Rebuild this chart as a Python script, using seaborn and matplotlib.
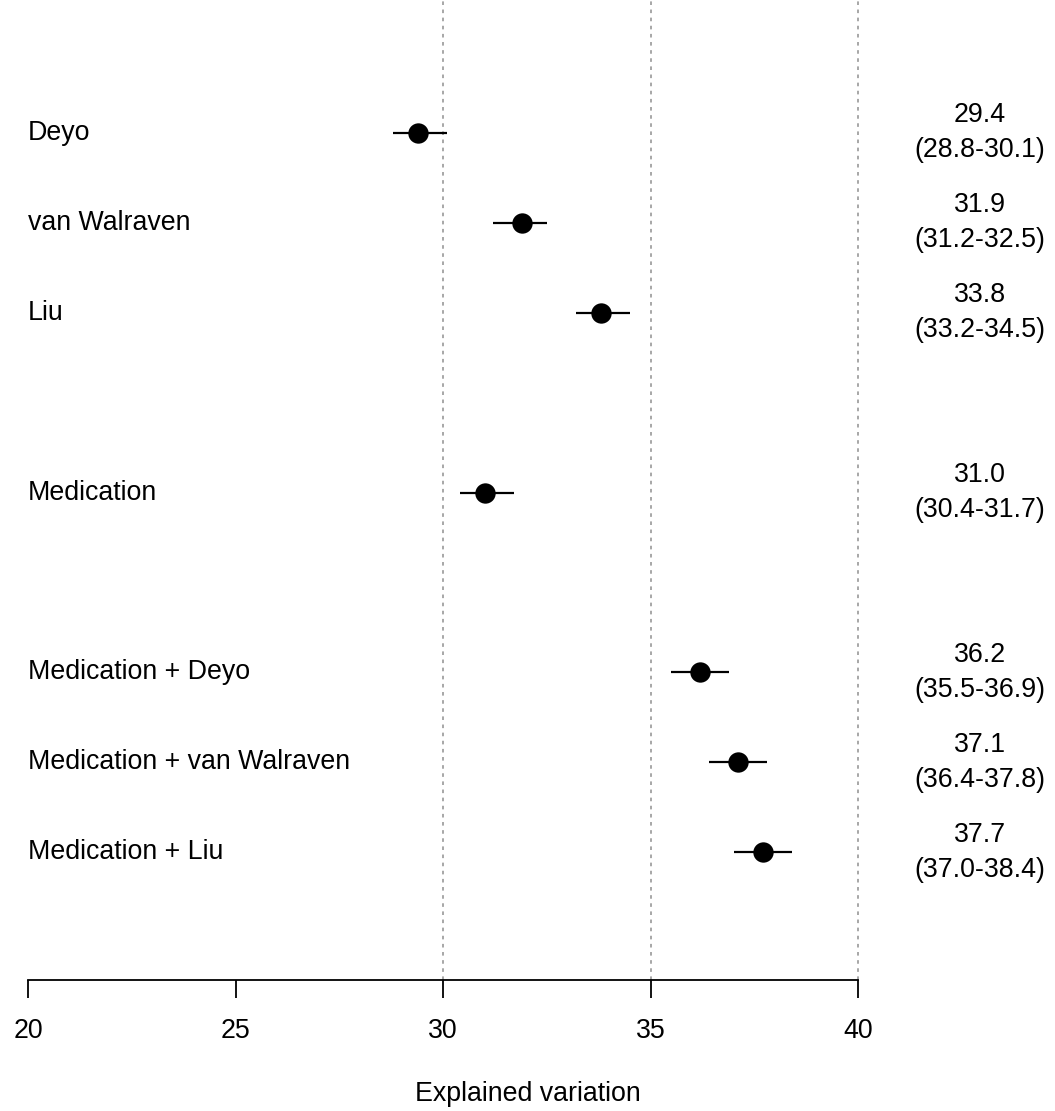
import numpy as np
import pandas as pd
import seaborn as sns
import matplotlib.pyplot as plt

# 데이터
labels = ['Deyo', 'van Walraven', 'Liu', 'Medication',
          'Medication + Deyo', 'Medication + van Walraven', 'Medication + Liu']
rows = [0, 1, 2, 4, 6, 7, 8]
est = [29.4, 31.9, 33.8, 31.0, 36.2, 37.1, 37.7]
lower = [28.8, 31.2, 33.2, 30.4, 35.5, 36.4, 37.0]
upper = [30.1, 32.5, 34.5, 31.7, 36.9, 37.8, 38.4]
xticks = [20, 25, 30, 35, 40]
grid_x = [30, 35, 40]

df = pd.DataFrame({'label': labels, 'row': rows, 'est': est,
                   'lo': lower, 'hi': upper})

sns.set_style('white')
plt.rcParams['font.family'] = ['Liberation Sans', 'DejaVu Sans']
plt.rcParams['text.color'] = 'black'
plt.rcParams['axes.labelcolor'] = 'black'
plt.rcParams['xtick.color'] = 'black'
FS = 19.3

fig = plt.figure(figsize=(10.55, 11.11), dpi=100)
ax = fig.add_axes([0, 1 - 980 / 1111, 1, 980 / 1111])

px = 41.5  # 단위당 픽셀
ax.set_xlim(20 - 28 / px, 20 + 1027 / px)
ax.set_ylim(9.422, -1.479)

for gx in grid_x:
    ax.axvline(gx, color='#a0a0a0', lw=1.3, ls=(0, (2, 2.5)), zorder=0)

ax.hlines(df['row'], df['lo'], df['hi'], color='black', lw=1.6, zorder=2)
sns.scatterplot(data=df, x='est', y='row', ax=ax, s=215, color='black',
                edgecolor='black', linewidth=0, zorder=3, legend=False)

for _, r in df.iterrows():
    ax.text(20, r['row'], r['label'], ha='left', va='center', fontsize=FS)
    ax.text(42.94, r['row'], f"{r['est']:.1f}\n({r['lo']:.1f}-{r['hi']:.1f})",
            ha='center', va='center', fontsize=FS, linespacing=1.45)

for s in ['top', 'right', 'left']:
    ax.spines[s].set_visible(False)
ax.spines['bottom'].set_bounds(20, 40)
ax.spines['bottom'].set_color('black')
ax.spines['bottom'].set_linewidth(1.3)
ax.set_yticks([])
ax.set_xticks(xticks)
ax.tick_params(axis='x', direction='out', length=13, width=1.3,
               labelsize=FS, pad=14, bottom=True)
ax.set_xlabel('Explained variation', fontsize=FS, labelpad=27)
ax.set_ylabel('')

fig.savefig('out.png', dpi=100)
